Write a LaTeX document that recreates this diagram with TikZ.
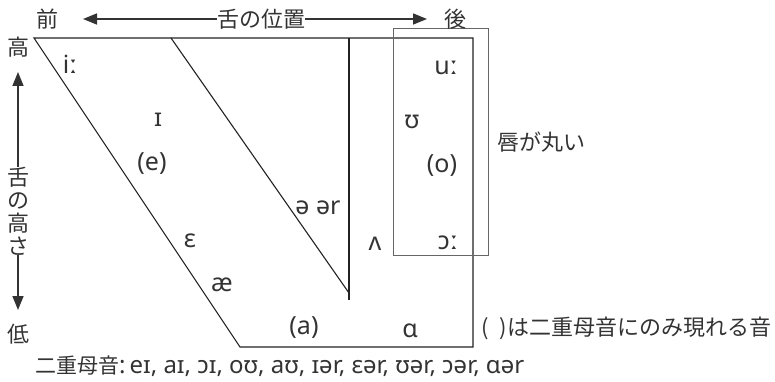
\documentclass[tikz,border=0pt]{standalone}
\usepackage{fontspec}
\setmainfont{Noto Sans}
\newfontfamily\jp{Noto Sans CJK JP}
\usetikzlibrary{arrows.meta}
\definecolor{ink}{HTML}{333333}
\definecolor{edge}{HTML}{222222}
\definecolor{lipgray}{HTML}{666666}
\begin{document}
\begin{tikzpicture}[x=1pt,y=-1pt,
  chart/.style={draw=edge,line width=1.1pt},
  lipbox/.style={draw=lipgray,line width=0.8pt},
  ipa/.style={text=ink,font=\fontsize{25}{28}\selectfont,inner sep=0pt},
  jtxt/.style={text=ink,font=\jp\fontsize{22}{24}\selectfont,inner sep=0pt},
  arr/.style={draw=ink,line width=1.5pt,-{Triangle[length=14pt,width=11pt]}}]
\useasboundingbox (0,0) rectangle (775,382);
% chart outline
\coordinate (tl) at (34,38);
\coordinate (tr) at (473,38);
\coordinate (br) at (473,347);
\coordinate (bl) at (240,347);
\coordinate (mtop) at (171,38);
\coordinate (mbot) at (349,293);
\coordinate (vtop) at (349,38);
\coordinate (vbot) at (349,300);
\draw[chart] (tl) -- (tr) -- (br) -- (bl) -- cycle;
\draw[chart] (mtop) -- (mbot);
\draw[chart] (vtop) -- (vbot);
% lip rounding box
\draw[lipbox] (393,28) rectangle (488,255);
% top axis
\node[jtxt] (front) at (47,19) {前};
\node[jtxt] (back) at (455,19) {後};
\node[jtxt] (tonguepos) at (261,19) {舌の位置};
\coordinate (ltip) at (83,19);
\coordinate (rtip) at (427,19);
\draw[arr] (tonguepos.west) -- (ltip);
\draw[arr] (tonguepos.east) -- (rtip);
% left axis
\node[jtxt] (high) at (18,47) {高};
\node[jtxt] (low) at (18,334) {低};
\node[jtxt,align=center,font=\jp\fontsize{22}{23}\selectfont] (tongueh) at (18,211) {舌\\の\\高\\さ};
\coordinate (utip) at (18,72);
\coordinate (dtip) at (18,310);
\draw[arr] (tongueh.north) -- (utip);
\draw[arr] (tongueh.south) -- (dtip);
% vowels
\node[ipa] (iL) at (70,64) {iː};
\node[ipa] (ih) at (158,120) {ɪ};
\node[ipa] (e) at (152,164) {(e)};
\node[ipa] (schwa) at (318,208) {ə ər};
\node[ipa] (eps) at (190,241) {ɛ};
\node[ipa] (ae) at (222,285) {æ};
\node[ipa] (wedge) at (375,244) {ʌ};
\node[ipa] (uL) at (446,68) {uː};
\node[ipa] (uh) at (412,122) {ʊ};
\node[ipa] (o) at (442,166) {(o)};
\node[ipa] (oL) at (448,243) {ɔː};
\node[ipa] (a) at (304,328) {(a)};
\node[ipa] (ab) at (410,331) {ɑ};
% notes
\node[jtxt,anchor=west] (round) at (497,142) {唇が丸い};
\node[jtxt,anchor=west] (paren) at (481,328) {(\,\,\,)は二重母音にのみ現れる音};
\node[text=ink,inner sep=0pt,anchor=base west] (diph) at (35,373) {{\jp\fontsize{21}{24}\selectfont 二重母音}{\fontsize{24}{26}\selectfont :\,eɪ, aɪ, ɔɪ, oʊ, aʊ, ɪər, ɛər, ʊər, ɔər, ɑər}};
\end{tikzpicture}
\end{document}
